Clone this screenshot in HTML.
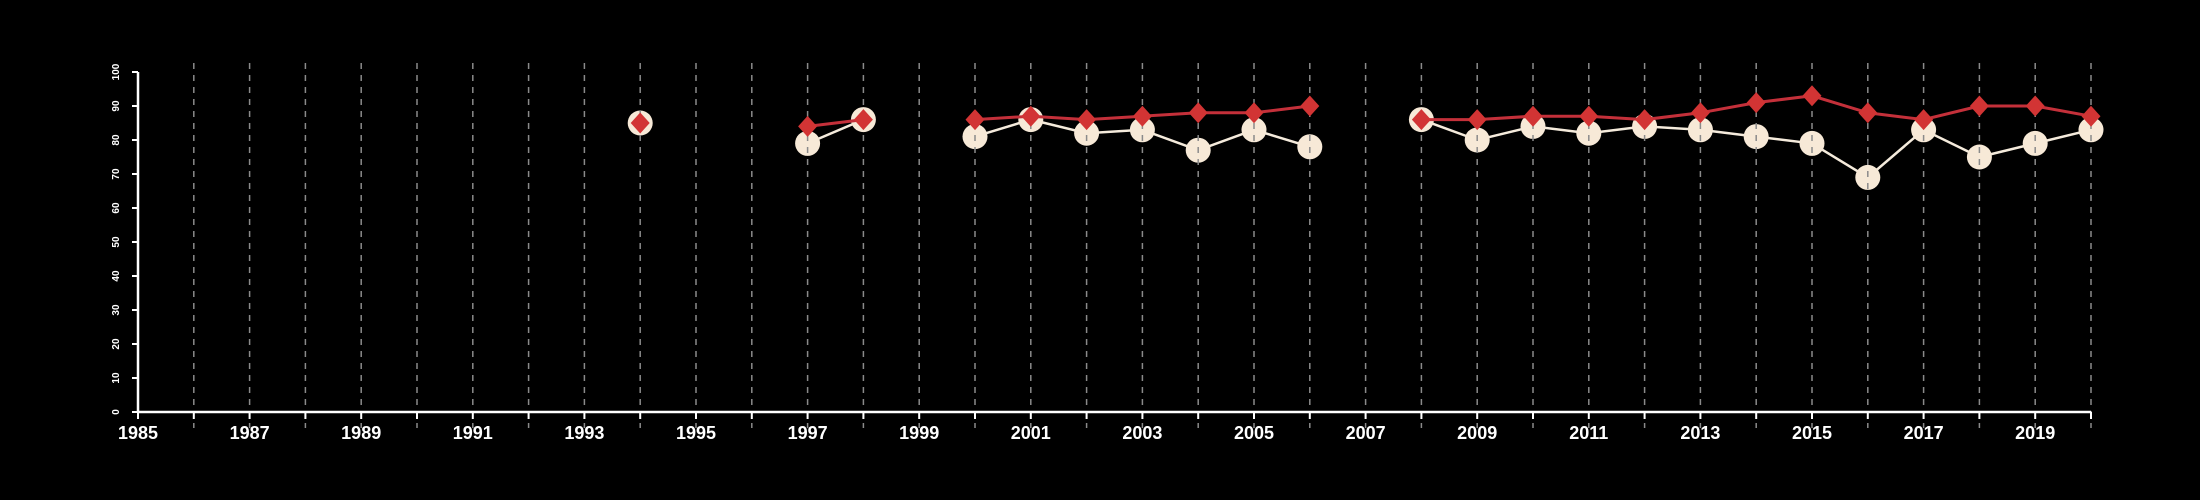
<!DOCTYPE html>
<html><head><meta charset="utf-8"><style>
html,body{margin:0;padding:0;background:#000;}
svg{display:block;}
</style></head><body>
<svg id="chart" width="2200" height="500" xmlns="http://www.w3.org/2000/svg"></svg>
<script>
const years = [1985,1986,1987,1988,1989,1990,1991,1992,1993,1994,1995,1996,1997,1998,1999,2000,2001,2002,2003,2004,2005,2006,2007,2008,2009,2010,2011,2012,2013,2014,2015,2016,2017,2018,2019,2020];
const redYears = [1994,1997,1998,2000,2001,2002,2003,2004,2005,2006,2008,2009,2010,2011,2012,2013,2014,2015,2016,2017,2018,2019,2020];
const redValues = [85,84,86,86,87,86,87,88,88,90,86,86,87,87,86,88,91,93,88,86,90,90,87];
const whiteValues = [85,79,86,81,86,82,83,77,83,78,86,80,84,82,84,83,81,79,69,83,75,79,83];
const yTicks = [0,10,20,30,40,50,60,70,80,90,100];
const xLabels = [1985,1987,1989,1991,1993,1995,1997,1999,2001,2003,2005,2007,2009,2011,2013,2015,2017,2019];

const NS="http://www.w3.org/2000/svg";
const svg=document.getElementById('chart');
const X0=138,X1=2091,Y0=412,Y1=72;
const xs=y=>X0+(y-1985)*(X1-X0)/35;
const ys=v=>Y0-v*(Y0-Y1)/100;
function mk(t,a,p){const e=document.createElementNS(NS,t);for(const k in a)e.setAttribute(k,a[k]);(p||svg).appendChild(e);return e;}

// segments (break on missing consecutive years)
function segments(vals){
  const segs=[];let cur=[];
  for(let i=0;i<redYears.length;i++){
    if(i>0 && redYears[i]-redYears[i-1]>1){segs.push(cur);cur=[];}
    cur.push([xs(redYears[i]),ys(vals[i])]);
  }
  segs.push(cur);return segs;
}
// white line
segments(whiteValues).forEach(s=>{if(s.length>1){
  const l=mk('polyline',{points:s.map(p=>p.join(',')).join(' '),fill:'none',stroke:'#f5ebdc','stroke-width':2.5});
  
  
}});
// white circles
whiteValues.forEach((v,i)=>{
  const c=mk('circle',{cx:xs(redYears[i]),cy:ys(v),r:12.5,fill:'#f7e9d7'});
  
  
});
// grid
years.slice(1).forEach(y=>{
  const g=mk('line',{x1:xs(y),x2:xs(y),y1:63,y2:428,stroke:'#8a8a8a','stroke-width':1.5,'stroke-dasharray':'6,6'});
  
  
});
// red line
segments(redValues).forEach(s=>{if(s.length>1){
  const l=mk('polyline',{points:s.map(p=>p.join(',')).join(' '),fill:'none',stroke:'#c4303a','stroke-width':3});
  
  
}});
redValues.forEach((v,i)=>{
  const x=xs(redYears[i]),y=ys(v);
  const d=mk('polygon',{points:`${x},${y-10.5} ${x+9.5},${y} ${x},${y+10.5} ${x-9.5},${y}`,fill:'#d23434'});
  
  
});
// axes
const ax=mk('line',{x1:X0,x2:X1,y1:Y0,y2:Y0,stroke:'#fff','stroke-width':2.5});


const ay=mk('line',{x1:X0,x2:X0,y1:Y0,y2:Y1,stroke:'#fff','stroke-width':2.5});


years.forEach(y=>{
  const t=mk('line',{x1:xs(y),x2:xs(y),y1:Y0,y2:Y0+7,stroke:'#fff','stroke-width':2});
  
  
});
xLabels.forEach(y=>{
  const t=mk('text',{x:xs(y),y:439,'text-anchor':'middle',fill:'#fff','font-family':'Liberation Sans, sans-serif','font-weight':'bold','font-size':18});
  t.textContent=y;
  
  
});
yTicks.forEach(v=>{
  const t=mk('line',{x1:X0-6,x2:X0,y1:ys(v),y2:ys(v),stroke:'#fff','stroke-width':2});
  
  
  const l=mk('text',{x:0,y:0,transform:`translate(119,${ys(v)}) rotate(-90)`,'text-anchor':'middle',fill:'#fff','font-family':'Liberation Sans, sans-serif','font-weight':'bold','font-size':10});
  l.textContent=v;
  
  
});
</script>
</body></html>
